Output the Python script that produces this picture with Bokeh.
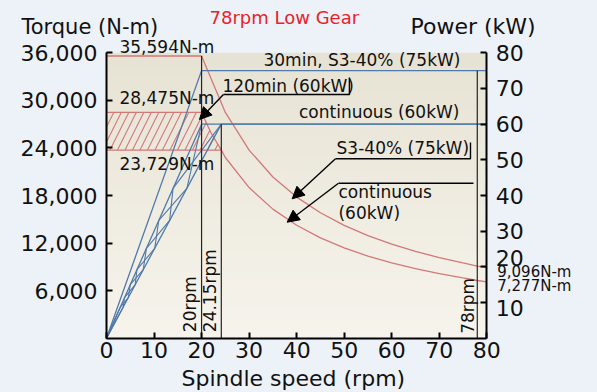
import numpy as np
from bokeh.plotting import figure
from bokeh.models import (Range1d, LinearAxis, FixedTicker, NumeralTickFormatter,
                          Label, Arrow, NormalHead)
from bokeh.embed import file_html
from bokeh.resources import INLINE

# ---------------- data ----------------
speed_ticks = [0, 10, 20, 30, 40, 50, 60, 70, 80]
torque_ticks = [6000, 12000, 18000, 24000, 30000, 36000]
power_ticks = [10, 20, 30, 40, 50, 60, 70, 80]

# torque curves (N-m) vs spindle speed (rpm)
s3_plateau_torque = 35594
rpm_s3 = [20, 25, 30, 35, 40, 45, 50, 55, 60, 65, 70, 75, 78, 80]
torque_s3 = [35594, 28480, 23730, 20340, 17800, 15820, 14240, 12940, 11870,
             10950, 10170, 9490, 9096, 8900]

min120_plateau_torque = 28475
rpm_cont = [20, 22, 24.15, 25, 30, 35, 40, 45, 50, 55, 60, 65, 70, 75, 78, 80]
torque_cont = [28475, 25880, 23729, 22790, 19000, 16280, 14250, 12660, 11400,
               10360, 9500, 8770, 8140, 7600, 7277, 7100]
cont_plateau_torque = 23729

# power curves (kW) vs spindle speed (rpm)
s3_power_rpm = [0, 20, 80]
s3_power_kw = [0, 75, 75]
min120_power_rpm = [0, 20, 80]
min120_power_kw = [0, 60, 60]
cont_power_rpm = [0, 24.15, 80]
cont_power_kw = [0, 60, 60]

base_speed_s3 = 20
base_speed_cont = 24.15
max_speed = 78

# hatch levels (fractions of the power ramp) for the 120min wedge
wedge_levels = [1.0, 0.70, 0.55, 0.42, 0.32, 0.25, 0.19, 0.145, 0.0]

FONT = "DejaVu Sans"
RED = "#d27878"
BLUE = "#4f79aa"
DARK = "#2b2323"

# whole canvas is the plotting frame; axes are pinned at data locations
X0, X1 = -22.30, 103.29
Y0, Y1 = -6849, 42597
P0, P1 = Y0 / 450.0, Y1 / 450.0

p = figure(width=597, height=392, x_range=Range1d(X0, X1), y_range=Range1d(Y0, Y1),
           output_backend="svg", toolbar_location=None,
           x_axis_location=None, y_axis_location=None,
           min_border=0, min_border_left=0, min_border_right=0,
           min_border_top=0, min_border_bottom=0,
           background_fill_color="#edf2f8", border_fill_color="#edf2f8",
           outline_line_color=None)
p.extra_y_ranges = {"power": Range1d(P0, P1)}
p.xgrid.visible = False
p.ygrid.visible = False

# background gradient of the plotting area
N = 60
img = np.zeros((N, 1), dtype=np.uint32)
view = img.view(dtype=np.uint8).reshape((N, 1, 4))
top = np.array([231, 227, 212])
bot = np.array([247, 244, 237])
for i in range(N):
    f = i / (N - 1)
    c = bot * (1 - f) + top * f
    view[i, 0, 0:3] = c.astype(np.uint8)
    view[i, 0, 3] = 255
p.image_rgba(image=[img], x=0, y=0, dw=80, dh=36000)

# ---- axes ----
def style_axis(ax, size="22px", standoff=9):
    ax.axis_line_width = 2
    ax.axis_line_color = "black"
    ax.major_tick_line_width = 2
    ax.major_tick_line_color = "black"
    ax.major_tick_in = 6
    ax.major_tick_out = 0
    ax.minor_tick_line_color = None
    ax.major_label_text_font = FONT
    ax.major_label_text_font_size = size
    ax.major_label_text_color = "#111111"
    ax.major_label_standoff = standoff

xa = LinearAxis(ticker=FixedTicker(ticks=speed_ticks), fixed_location=0, bounds=(0, 80))
style_axis(xa, standoff=4)
p.add_layout(xa, "below")

ya = LinearAxis(ticker=FixedTicker(ticks=torque_ticks), fixed_location=0, bounds=(0, 36000),
                formatter=NumeralTickFormatter(format="0,0"))
style_axis(ya)
p.add_layout(ya, "left")

ra = LinearAxis(y_range_name="power", ticker=FixedTicker(ticks=power_ticks),
                fixed_location=80, bounds=(0, 80),
                major_label_overrides={10: "", 20: ""})
style_axis(ra)
p.add_layout(ra, "right")

# ---- torque (red) ----
hx = [0] + [r for r in rpm_cont if r <= base_speed_cont][::-1] + [0]
hy = [cont_plateau_torque] + [t for r, t in zip(rpm_cont, torque_cont) if r <= base_speed_cont][::-1] + [min120_plateau_torque]
p.patch(x=hx, y=hy, fill_alpha=0, line_color=None, hatch_pattern="/",
        hatch_color=RED, hatch_scale=15, hatch_weight=1.1)

p.line(x=[0] + rpm_s3, y=[s3_plateau_torque] + torque_s3, line_color=RED, line_width=1.3)
p.line(x=[0] + rpm_cont, y=[min120_plateau_torque] + torque_cont, line_color=RED, line_width=1.3)
p.line(x=[0, base_speed_cont], y=[cont_plateau_torque, cont_plateau_torque], line_color=RED, line_width=1.3)
p.line(x=[0, 0], y=[cont_plateau_torque, min120_plateau_torque], line_color=RED, line_width=1.3)

# ---- power (blue) ----
p.line(x=s3_power_rpm, y=s3_power_kw, y_range_name="power", line_color=BLUE, line_width=1.3)
p.line(x=min120_power_rpm, y=min120_power_kw, y_range_name="power", line_color=BLUE, line_width=1.3)
p.line(x=cont_power_rpm, y=cont_power_kw, y_range_name="power", line_color=BLUE, line_width=1.3)

# zig-zag hatch inside the wedge between the two 60 kW ramps
kw_top = min120_power_kw[1]
for phase in (0, 1):
    zx, zy = [], []
    for k, t in enumerate(wedge_levels):
        edge = base_speed_s3 if (k + phase) % 2 else base_speed_cont
        zx.append(edge * t)
        zy.append(kw_top * t)
    p.line(x=zx, y=zy, y_range_name="power", line_color=BLUE, line_width=1.1)

# ---- speed markers (black) ----
p.line(x=[base_speed_s3, base_speed_s3], y=[0, s3_plateau_torque], line_color=DARK, line_width=1.2)
p.line(x=[base_speed_cont, base_speed_cont], y=[0, cont_power_kw[1]], y_range_name="power",
       line_color=DARK, line_width=1.2)
p.line(x=[max_speed, max_speed], y=[0, s3_power_kw[1]], y_range_name="power",
       line_color=DARK, line_width=1.2)

# ---- callout lines & arrows ----
p.line(x=[24.6, 51.1, 51.1], y=[30740, 30740, 32900], line_color="black", line_width=1.4)
p.line(x=[48.17, 76.57, 76.57], y=[22630, 22630, 24700], line_color="black", line_width=1.4)
p.line(x=[48.8, 77.2], y=[19550, 19550], line_color="black", line_width=1.4)
for xs, ys, xe, ye in [(24.6, 30740, 19.56, 27590),
                       (48.17, 22630, 39.06, 17580),
                       (48.8, 19550, 38.0, 14630)]:
    p.add_layout(Arrow(end=NormalHead(size=12, fill_color="black", line_color="black"),
                       x_start=xs, y_start=ys, x_end=xe, y_end=ye,
                       line_color="black", line_width=1.4))

# ---- texts ----
def lab(text, x, y, size="17px", color="#111111", align="left", baseline="alphabetic",
        angle=0, y_range_name="default"):
    p.add_layout(Label(text=text, x=x, y=y, text_font=FONT, text_font_size=size,
                       text_color=color, text_align=align, text_baseline=baseline,
                       angle=angle, y_range_name=y_range_name))

lab("Torque (N-m)", -17.9, 39283, size="21px")
lab("Power (kW)", 63.95, 39283, size="22px")
lab("78rpm Low Gear", 21.67, 40453, size="18px", color="#e8232b")
lab("35,594N-m", 2.73, 36793)
lab("28,475N-m", 2.73, 30353)
lab("23,729N-m", 2.73, 22033)
lab("30min, S3-40% (75kW)", 74.46, 35063, align="right")
lab("120min (60kW)", 24.4, 31783)
lab("continuous (60kW)", 74.25, 28583, align="right")
lab("S3-40% (75kW)", 48.4, 24053)
lab("continuous", 48.8, 18383)
lab("(60kW)", 48.8, 15733)
lab("9,096N-m", 82.2, 8300, size="15px")
lab("7,277N-m", 82.2, 6550, size="15px")
lab("20", 81.9, 22.5, size="22px", baseline="middle", y_range_name="power")
lab("10", 81.9, 8.47, size="22px", baseline="middle", y_range_name="power")
lab("20rpm", 17.59, 760, angle=np.pi / 2)
lab("24.15rpm", 21.67, 760, angle=np.pi / 2)
lab("78rpm", 76.03, 550, angle=np.pi / 2)
lab("Spindle speed (rpm)", 39.3, -5083, size="22px", align="center")

html = file_html(p, INLINE)
html = html.replace("</head>", "<style>html,body{background:#edf2f8;}</style></head>", 1)
open("out.html", "w").write(html)
